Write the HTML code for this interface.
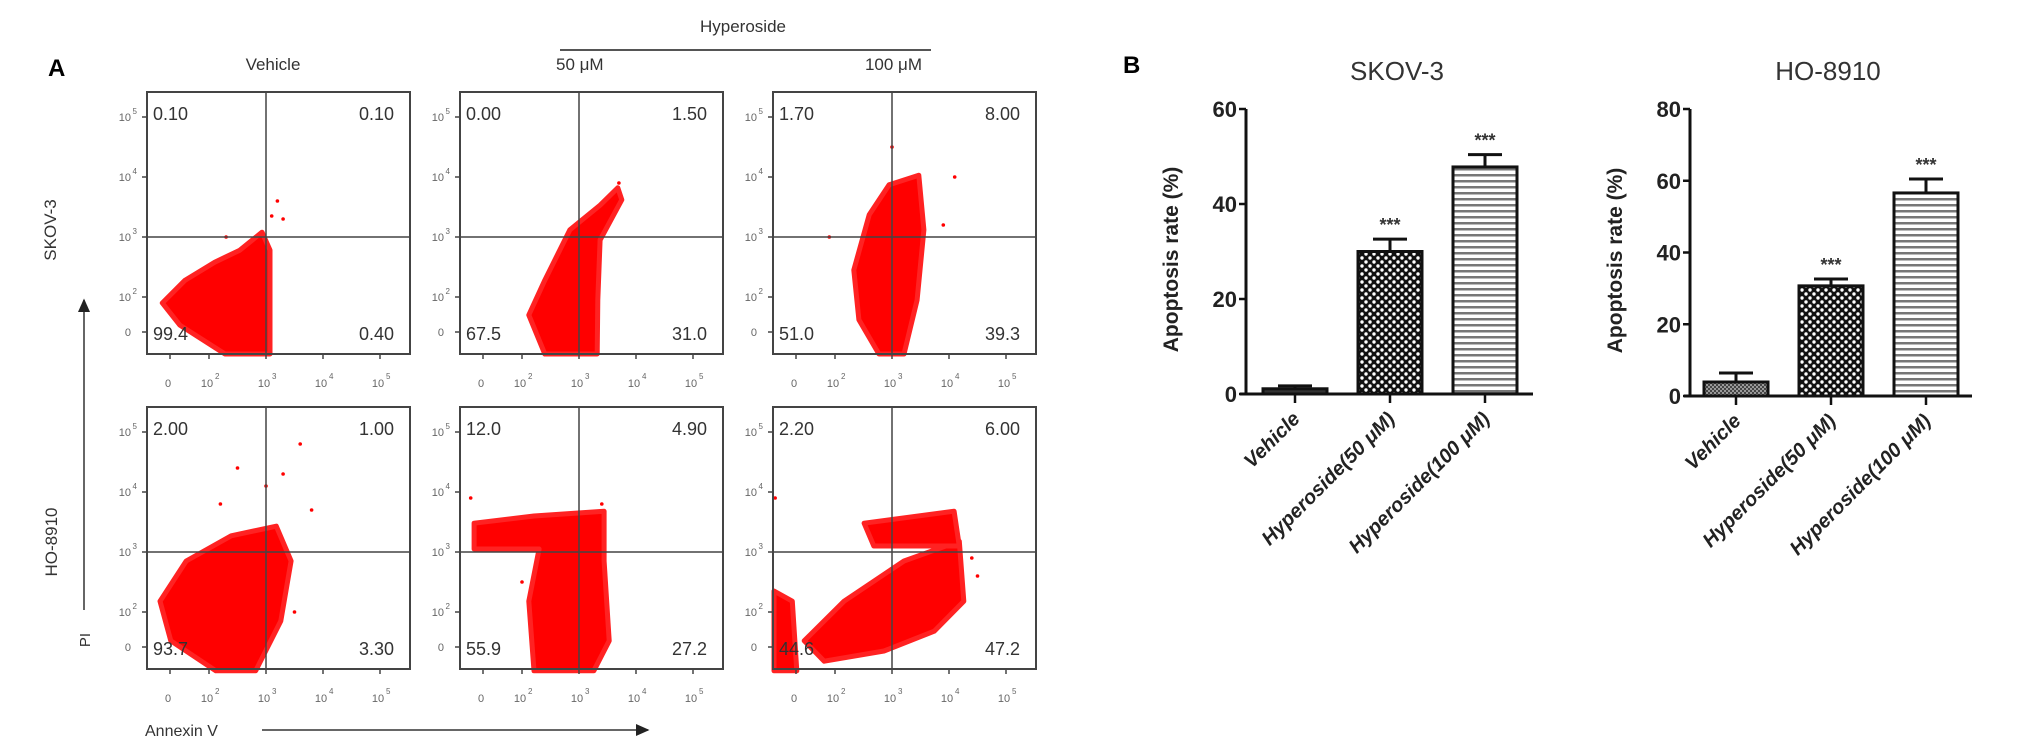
<!DOCTYPE html>
<html><head><meta charset="utf-8"><style>
html,body{margin:0;padding:0;background:#fff;}
svg{display:block;font-family:"Liberation Sans",Arial,sans-serif;}
</style></head><body>
<svg id="fig" width="2031" height="749" viewBox="0 0 2031 749" xmlns="http://www.w3.org/2000/svg">
<defs>
<pattern id="checker" width="8" height="8" patternUnits="userSpaceOnUse">
<rect width="8" height="8" fill="#111"/>
<circle cx="2" cy="2" r="1.7" fill="#fff"/><circle cx="6" cy="6" r="1.7" fill="#fff"/>
</pattern>
<pattern id="stripes" width="8" height="6" patternUnits="userSpaceOnUse">
<rect width="8" height="6" fill="#fff"/><rect y="0" width="8" height="2.5" fill="#777"/>
</pattern>
<pattern id="hatch" width="4" height="4" patternUnits="userSpaceOnUse">
<rect width="4" height="4" fill="#999"/><rect width="2" height="2" fill="#444"/><rect x="2" y="2" width="2" height="2" fill="#444"/>
</pattern>
<marker id="arr" markerWidth="10" markerHeight="10" refX="8" refY="4" orient="auto"><path d="M0,0 L9,4 L0,8 z" fill="#222"/></marker>
</defs>

<text x="48" y="76" font-size="24" font-weight="bold">A</text>
<text x="273" y="70" font-size="17" fill="#333" text-anchor="middle">Vehicle</text>
<text x="743" y="32" font-size="17" fill="#333" text-anchor="middle">Hyperoside</text>
<line x1="560" y1="50" x2="931" y2="50" stroke="#555" stroke-width="2"/>
<text x="556" y="70" font-size="17" fill="#333">50 μM</text>
<text x="922" y="70" font-size="17" fill="#333" text-anchor="end">100 μM</text>
<text transform="translate(56,230) rotate(-90)" font-size="17" fill="#333" text-anchor="middle">SKOV-3</text>
<text transform="translate(57,542) rotate(-90)" font-size="17" fill="#333" text-anchor="middle">HO-8910</text>
<line x1="84" y1="610" x2="84" y2="300" stroke="#333" stroke-width="1.5" marker-end="url(#arr)"/>
<text transform="translate(90,640) rotate(-90)" font-size="15" fill="#333" text-anchor="middle">PI</text>
<text x="145" y="736" font-size="16" fill="#333">Annexin V</text>
<line x1="262" y1="730" x2="648" y2="730" stroke="#333" stroke-width="1.5" marker-end="url(#arr)"/>

<g id="flow"></g>
<text x="1123" y="73" font-size="24" font-weight="bold">B</text>
<g id="bars"></g>
</svg>
<script>
// ---- Flow cytometry data (log10 units) ----
const quadValues = [
 ["0.10","0.10","99.4","0.40"],["0.00","1.50","67.5","31.0"],["1.70","8.00","51.0","39.3"],
 ["2.00","1.00","93.7","3.30"],["12.0","4.90","55.9","27.2"],["2.20","6.00","44.6","47.2"]];
const cloud0 = [[[1.18,1.9],[1.58,2.28],[2.1,2.58],[2.54,2.78],[2.93,3.08],[3.07,2.78],[3.07,1.05],[2.28,1.05],[1.49,1.53]]];
const cloud1 = [[[2.12,1.7],[2.4,2.28],[2.84,3.12],[3.37,3.53],[3.68,3.82],[3.75,3.62],[3.37,2.95],[3.33,1.95],[3.32,1.05],[2.4,1.05]]];
const cloud2 = [[[2.33,2.45],[2.6,3.37],[2.95,3.87],[3.47,4.03],[3.56,3.12],[3.44,1.95],[3.21,1.05],[2.77,1.05],[2.42,1.62]]];
const cloud3 = [[[1.14,2.18],[1.6,2.85],[2.39,3.27],[3.18,3.43],[3.44,2.85],[3.26,1.85],[2.82,1.02],[2.12,1.02],[1.33,1.52]]];
const cloud4 = [[[1.16,3.48],[2.21,3.6],[3.44,3.68],[3.44,2.85],[3.53,1.52],[3.26,1.02],[2.21,1.02],[2.12,2.18],[2.3,3.05],[1.16,3.05]]];
const cloud5 = [[[1.46,1.52],[2.16,2.18],[3.21,2.85],[4.18,3.18],[4.26,2.18],[3.74,1.68],[2.86,1.35],[1.81,1.18]],
  [[2.51,3.48],[4.09,3.68],[4.18,3.1],[2.68,3.1]],
  [[0.93,2.35],[1.25,2.18],[1.33,1.02],[0.93,1.02]]];
const clouds = [cloud0,cloud1,cloud2,cloud3,cloud4,cloud5];
const outliers0 = [[3.2,3.6],[3.3,3.3],[2.3,3.0],[3.1,3.35]];
const outliers3 = [[2.5,4.4],[3.0,4.1],[3.6,4.8],[3.3,4.3],[2.2,3.8],[3.8,3.7],[3.5,2.0]];
const outliersAll = [outliers0,[[3.7,3.9]],[[3.9,3.2],[4.1,4.0],[3.0,4.5],[1.9,3.0]],outliers3,[[1.1,3.9],[3.4,3.8],[2.0,2.5]],[[4.4,2.9],[4.5,2.6],[0.95,3.9]]];
const decadeLabels = ["2","3","4","5"];

const NS="http://www.w3.org/2000/svg";
function mk(tag,attrs,parent){const e=document.createElementNS(NS,tag);for(const k in attrs)e.setAttribute(k,attrs[k]);parent.appendChild(e);return e;}
const flow=document.getElementById('flow');
const boxX=[147,460,773], boxY=[92,407], BW=263, BH=262;
for(let i=0;i<6;i++){
  const bx=boxX[i%3], by=boxY[Math.floor(i/3)];
  const sx=d=>bx+119+(d-3)*57, sy=d=>by+145-(d-3)*60;
  const g=mk('g',{},flow);
  
  
  // clouds
  clouds[i].forEach(poly=>{
    const p=mk('polygon',{points:poly.map(q=>sx(q[0]).toFixed(1)+','+sy(q[1]).toFixed(1)).join(' '),fill:'#f00',stroke:'#f22','stroke-width':5,'stroke-linejoin':'round'},g);
    
    
  });
  outliersAll[i].forEach(q=>{
    const c=mk('circle',{cx:sx(q[0]),cy:sy(q[1]),r:1.8,fill:'#f00'},g);
    
    
  });
  // box and quadrant lines
  const r=mk('rect',{x:bx,y:by,width:BW,height:BH,fill:'none',stroke:'#444','stroke-width':2},g);
  
  
  const vl=mk('line',{x1:sx(3),y1:by,x2:sx(3),y2:by+BH,stroke:'#444','stroke-width':1.5},g);
  
  
  const hl=mk('line',{x1:bx,y1:sy(3),x2:bx+BW,y2:sy(3),stroke:'#444','stroke-width':1.5},g);
  
  
  // quadrant values
  const qv=quadValues[i];
  const qpos=[[bx+6,by+28,'start'],[bx+BW-16,by+28,'end'],[bx+6,by+248,'start'],[bx+BW-16,by+248,'end']];
  qpos.forEach((p,k)=>{
    const t=mk('text',{x:p[0],y:p[1],'font-size':18,fill:'#333','text-anchor':p[2]},g);
    t.textContent=qv[k];
    
    
  });
  // ticks
  const ly=[["0",1.5]].concat(decadeLabels.map(s=>["10",+s,s]));
  ly.forEach(L=>{
    const yy = L[0]==="0" ? by+240 : sy(L[1]);
    const t=mk('text',{x:bx-16,y:yy+4,'font-size':11,fill:'#666','text-anchor':'end'},g);
    t.textContent=L[0];
    
    
    if(L[2]){const s=mk('text',{x:bx-10,y:yy-3,'font-size':8,fill:'#666','text-anchor':'end'},g);s.textContent=L[2];}
    mk('line',{x1:bx-5,y1:yy,x2:bx,y2:yy,stroke:'#444','stroke-width':1.5},g);
    const xx = L[0]==="0" ? bx+23 : sx(L[1]);
    const tx=mk('text',{x:xx-2,y:by+BH+33,'font-size':11,fill:'#666','text-anchor':'middle'},g);
    tx.textContent=L[0];
    
    
    if(L[2]){const s=mk('text',{x:xx+6,y:by+BH+25,'font-size':8,fill:'#666'},g);s.textContent=L[2];}
    mk('line',{x1:xx,y1:by+BH,x2:xx,y2:by+BH+5,stroke:'#444','stroke-width':1.5},g);
  });
}

// ---- Bar chart data ----
const barCategories = ["Vehicle","Hyperoside(50 μM)","Hyperoside(100 μM)"];
const skovMeans = [1.1, 30.0, 47.8];
const skovErr = [0.6, 2.6, 2.6];
const hoMeans = [3.9, 30.7, 56.6];
const hoErr = [2.5, 1.9, 3.9];
const skovTicks = [0,20,40,60];
const hoTicks = [0,20,40,60,80];
const sig = ["","***","***"];
const fills = [["#333","url(#checker)","url(#stripes)"],["url(#hatch)","url(#checker)","url(#stripes)"]];

const bars=document.getElementById('bars');
function barChart(cfg){
  const g=mk('g',{},bars);
  
  
  const maxV=cfg.ticks[cfg.ticks.length-1];
  const y=v=>cfg.y0-(v/maxV)*(cfg.y0-cfg.yTop);
  const x=i=>cfg.x0+i*95;
  const t=mk('text',{x:cfg.titleX,y:80,'font-size':26,fill:'#333','text-anchor':'middle'},g);
  t.textContent=cfg.title;
  
  
  const yt=mk('text',{transform:`translate(${cfg.axisX-68},${(cfg.y0+cfg.yTop)/2+8}) rotate(-90)`,'font-size':21,'font-weight':'bold',fill:'#222','text-anchor':'middle'},g);
  yt.textContent='Apoptosis rate (%)';
  
  
  mk('line',{x1:cfg.axisX,y1:cfg.yTop,x2:cfg.axisX,y2:cfg.y0,stroke:'#111','stroke-width':3},g);
  mk('line',{x1:cfg.axisX-6,y1:cfg.y0,x2:cfg.axisEnd,y2:cfg.y0,stroke:'#111','stroke-width':3},g);
  cfg.ticks.forEach(v=>{
    mk('line',{x1:cfg.axisX-7,y1:y(v),x2:cfg.axisX,y2:y(v),stroke:'#111','stroke-width':2.5},g);
    const tl=mk('text',{x:cfg.axisX-9,y:y(v)+8,'font-size':22,'font-weight':'bold',fill:'#222','text-anchor':'end'},g);
    tl.textContent=v;
    
    
  });
  cfg.means.forEach((m,i)=>{
    const cx=x(i);
    const eTop=y(m+cfg.err[i]);
    mk('line',{x1:cx,y1:y(m),x2:cx,y2:eTop,stroke:'#111','stroke-width':3},g);
    mk('line',{x1:cx-17,y1:eTop,x2:cx+17,y2:eTop,stroke:'#111','stroke-width':3},g);
    const b=mk('rect',{x:cx-32,y:y(m),width:64,height:cfg.y0-y(m),fill:cfg.fills[i],stroke:'#111','stroke-width':3},g);
    
    
    mk('line',{x1:cx,y1:cfg.y0,x2:cx,y2:cfg.y0+9,stroke:'#111','stroke-width':2.5},g);
    if(sig[i]){
      const s=mk('text',{x:cx,y:eTop-8,'font-size':18,'font-weight':'bold',fill:'#333','text-anchor':'middle'},g);
      s.textContent=sig[i];
      
      
    }
    const lab=mk('text',{transform:`translate(${cx+6},${cfg.y0+26}) rotate(-45)`,'font-size':20,'font-weight':'bold','font-style':'italic',fill:'#222','text-anchor':'end'},g);
    lab.textContent=barCategories[i];
    
    
  });
}
barChart({name:'skov3-bar-chart',title:'SKOV-3',titleX:1397,axisX:1246,axisEnd:1533,x0:1295,y0:394,yTop:109,ticks:skovTicks,means:skovMeans,err:skovErr,fills:fills[0]});
barChart({name:'ho8910-bar-chart',title:'HO-8910',titleX:1828,axisX:1690,axisEnd:1972,x0:1736,y0:396,yTop:109,ticks:hoTicks,means:hoMeans,err:hoErr,fills:fills[1]});
</script>
</body></html>
